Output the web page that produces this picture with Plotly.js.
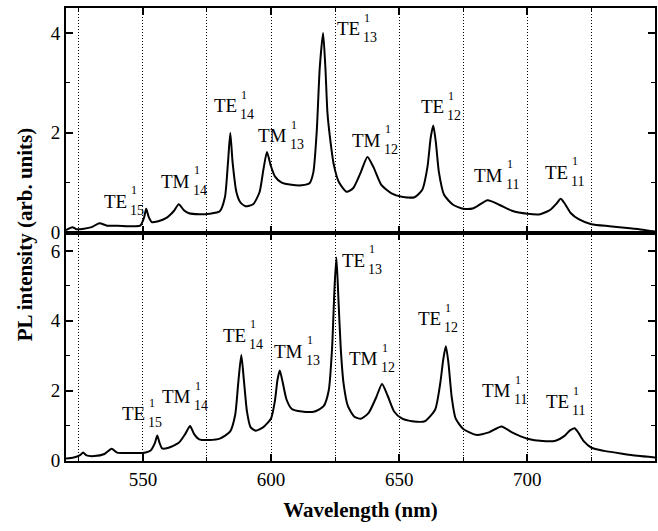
<!DOCTYPE html>
<html>
<head>
<meta charset="utf-8">
<script src="https://cdn.plot.ly/plotly-3.0.1.min.js"></script>
<style>html,body{margin:0;padding:0;background:#fff;}#chart{width:658px;height:531px;}</style>
</head>
<body>
<div id="chart"></div>
<script>
// ---- Top spectrum ----
const topWavelength = [520,522.5,524,527,530,533,536,540,545,549,550.5,551.3,552.3,553.5,556,559,562,564,566,568,572,576,580,582,583.2,584.1,585,586.5,588,590,593,595.5,597,598.4,599.8,601.5,604,608,612,615,616.5,617.8,619,620.3,621.2,622,623,624.5,626.5,629.5,632,635,637.6,640,643,647,651,656,659,661,662.3,663.3,664.3,665.5,667.5,671,675,679,684.5,689,694,700,705,709,711.5,713,714.5,717,720,725,732,740,745,750];
const topIntensity = [0.04,0.10,0.06,0.07,0.10,0.18,0.13,0.13,0.12,0.13,0.30,0.47,0.30,0.20,0.22,0.28,0.42,0.56,0.44,0.38,0.36,0.37,0.42,0.70,1.40,1.99,1.40,0.80,0.60,0.52,0.56,0.80,1.25,1.61,1.35,1.12,1.00,0.95,0.94,0.98,1.20,2.00,3.30,4.00,3.30,2.40,1.90,1.35,1.00,0.81,0.88,1.20,1.51,1.30,0.95,0.78,0.71,0.70,0.85,1.30,1.90,2.14,1.80,1.20,0.75,0.55,0.47,0.48,0.64,0.55,0.43,0.37,0.36,0.45,0.58,0.67,0.58,0.38,0.26,0.16,0.12,0.08,0.05,0.01];

// ---- Bottom spectrum ----
const botWavelength = [520,523,525.5,526.7,528,531,535,537.8,540,545,550,553,554.7,555.6,556.5,557.5,560,564,566.5,568.4,570,572,576,580,584,586,587.3,588.4,589.4,590.6,592,594,597,600,601.5,602.5,603.4,604.5,606,608,612,617,620.5,622.5,623.8,624.8,625.5,626.3,627.2,628.3,630,632.5,635,638,641,643.3,645.5,648,651,655,660,664,666,667.2,668.2,669.2,670.5,672,675,680,685,689.9,694,700,706,711,714.5,716.5,718.4,720,722,725,730,737,743,750];
const botIntensity = [0.05,0.08,0.15,0.22,0.14,0.12,0.18,0.33,0.22,0.21,0.21,0.28,0.50,0.71,0.50,0.34,0.36,0.50,0.75,0.98,0.75,0.60,0.58,0.62,0.82,1.30,2.30,3.02,2.30,1.40,0.95,0.85,0.95,1.20,1.70,2.30,2.57,2.25,1.75,1.48,1.40,1.40,1.55,2.00,3.20,5.00,5.81,4.60,3.20,2.20,1.55,1.25,1.19,1.35,1.80,2.19,1.85,1.40,1.20,1.12,1.12,1.45,2.20,2.90,3.27,2.80,1.80,1.20,0.90,0.73,0.80,0.97,0.80,0.62,0.55,0.56,0.70,0.85,0.92,0.78,0.55,0.36,0.27,0.19,0.13,0.08];

// ---- Mode labels ----
const modeBase = ["TE","TM","TE","TM","TE","TM","TE","TM","TE"];
const modeOrder = ["1","1","1","1","1","1","1","1","1"];
const modeIndex = ["15","14","14","13","13","12","12","11","11"];
const topLabelX = [544.4,569.2,587.5,607.0,635.3,643.6,668.4,691.1,716.5];
const topLabelY = [0.62,1.02,2.54,1.94,4.08,1.84,2.52,1.14,1.20];
const botLabelX = [551.6,569.6,591.0,613.2,637.3,642.4,667.1,694.3,717.1];
const botLabelY = [1.33,1.82,3.59,3.13,5.73,2.91,4.05,1.99,1.68];

const serif = "Liberation Serif";
const lineStyle = {color:"#000", width:2, shape:"spline", smoothing:0.6};

const traces = [
  {x: topWavelength, y: topIntensity, xaxis:"x2", yaxis:"y2", mode:"lines", line: lineStyle, hoverinfo:"skip"},
  {x: botWavelength, y: botIntensity, xaxis:"x", yaxis:"y", mode:"lines", line: lineStyle, hoverinfo:"skip"}
];

function labelAnns(xs, ys, xref, yref) {
  const out = [];
  for (let i = 0; i < xs.length; i++) {
    out.push({x: xs[i], y: ys[i], xref, yref, text: modeBase[i], showarrow:false, xanchor:"right", yanchor:"middle", font:{family:serif, size:19, color:"#000"}});
    out.push({x: xs[i], y: ys[i], xref, yref, text: modeOrder[i], showarrow:false, xanchor:"left", yanchor:"middle", xshift:0, yshift:11, font:{family:serif, size:12, color:"#000"}});
    out.push({x: xs[i], y: ys[i], xref, yref, text: modeIndex[i], showarrow:false, xanchor:"left", yanchor:"middle", xshift:-1, yshift:-9, font:{family:serif, size:14, color:"#000"}});
  }
  return out;
}

const dotted = "1px,2px";
const xCommon = {
  range:[520,749.8], tick0:550, dtick:50, ticks:"inside", ticklen:7, tickwidth:2, tickcolor:"#000",
  showline:true, linecolor:"#000", linewidth:2, mirror:"ticks",
  showgrid:true, gridcolor:"#000", gridwidth:1, griddash:dotted,
  minor:{tick0:525, dtick:25, ticks:"inside", ticklen:4, tickwidth:1, tickcolor:"#000", showgrid:true, gridcolor:"#000", gridwidth:1, griddash:dotted},
  zeroline:false, tickfont:{family:serif, size:19, color:"#000"}
};
const yCommon = {
  ticks:"inside", ticklen:7, tickwidth:2, tickcolor:"#000",
  showline:true, linecolor:"#000", linewidth:2, mirror:"ticks",
  showgrid:false, zeroline:false, dtick:2, tick0:0,
  minor:{dtick:1, ticks:"inside", ticklen:4, tickwidth:1, tickcolor:"#000"},
  tickfont:{family:serif, size:19, color:"#000"}
};

const layout = {
  width:658, height:531,
  margin:{l:66, r:3, t:8, b:70},
  paper_bgcolor:"#fff", plot_bgcolor:"#fff",
  font:{family:serif, color:"#000"},
  showlegend:false,
  xaxis: Object.assign({}, xCommon, {anchor:"y", domain:[0,1], showticklabels:true,
    title:{text:"<b>Wavelength (nm)</b>", font:{family:serif, size:21, color:"#000"}, standoff:14}}),
  yaxis: Object.assign({}, yCommon, {anchor:"x", domain:[0,0.503], range:[-0.02,6.51]}),
  xaxis2: Object.assign({}, xCommon, {anchor:"y2", domain:[0,1], matches:"x", showticklabels:false}),
  yaxis2: Object.assign({}, yCommon, {anchor:"x2", domain:[0.503,1], range:[-0.02,4.5]}),
  annotations: [
    {xref:"paper", yref:"paper", x:-0.07, y:0.5, text:"<b>PL intensity (arb. units)</b>", textangle:-90, showarrow:false, xanchor:"center", yanchor:"middle", font:{family:serif, size:21, color:"#000"}}
  ].concat(labelAnns(topLabelX, topLabelY, "x2", "y2"), labelAnns(botLabelX, botLabelY, "x", "y"))
};

Plotly.newPlot("chart", traces, layout, {displayModeBar:false, staticPlot:true});
</script>
</body>
</html>
